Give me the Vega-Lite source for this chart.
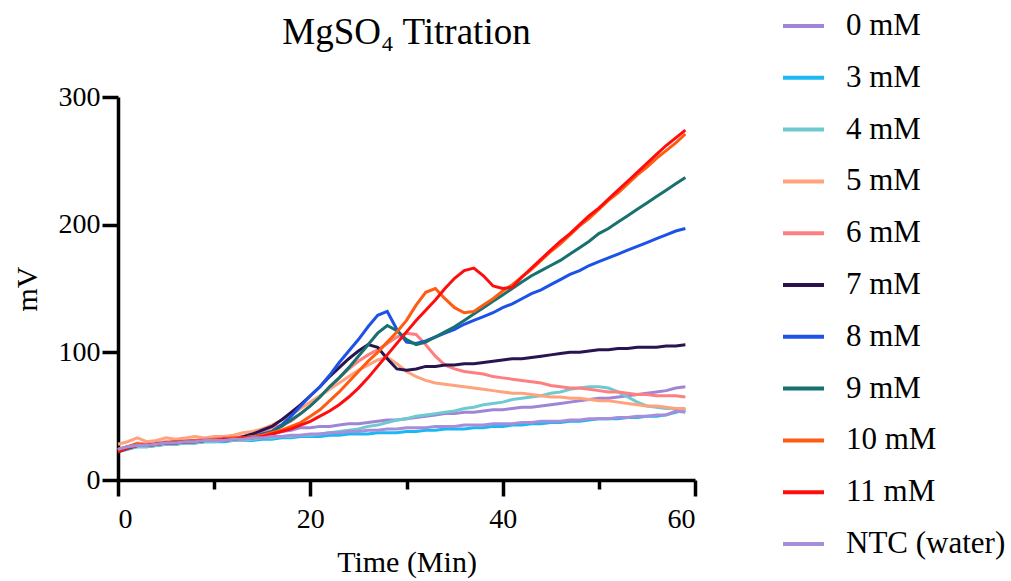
{
"$schema":"https://vega.github.io/schema/vega-lite/v6.json",
"autosize":{"type":"none"},
"padding":{"left":118,"top":97,"right":316,"bottom":101},
"width":577,"height":383,
"background":"white",
"config":{"view":{"stroke":null}},
"title":{"text":"MgSO₄ Titration","font":"Liberation Serif","fontSize":37,"fontWeight":"normal","color":"black","anchor":"middle","offset":-48},
"data":{"values":[
{"s":"0 mM","t":0,"v":24},{"s":"0 mM","t":1,"v":26},{"s":"0 mM","t":2,"v":28},{"s":"0 mM","t":3,"v":27},{"s":"0 mM","t":4,"v":28},{"s":"0 mM","t":5,"v":29},{"s":"0 mM","t":6,"v":30},{"s":"0 mM","t":7,"v":30},{"s":"0 mM","t":8,"v":31},{"s":"0 mM","t":9,"v":31},{"s":"0 mM","t":10,"v":31},{"s":"0 mM","t":11,"v":32},{"s":"0 mM","t":12,"v":32},{"s":"0 mM","t":13,"v":33},{"s":"0 mM","t":14,"v":33},
{"s":"0 mM","t":15,"v":34},{"s":"0 mM","t":16,"v":36},{"s":"0 mM","t":17,"v":38},{"s":"0 mM","t":18,"v":39},{"s":"0 mM","t":19,"v":41},{"s":"0 mM","t":20,"v":41},{"s":"0 mM","t":21,"v":42},{"s":"0 mM","t":22,"v":42},{"s":"0 mM","t":23,"v":43},{"s":"0 mM","t":24,"v":44},{"s":"0 mM","t":25,"v":44},{"s":"0 mM","t":26,"v":45},{"s":"0 mM","t":27,"v":46},{"s":"0 mM","t":28,"v":47},{"s":"0 mM","t":29,"v":47},
{"s":"0 mM","t":30,"v":48},{"s":"0 mM","t":31,"v":49},{"s":"0 mM","t":32,"v":50},{"s":"0 mM","t":33,"v":51},{"s":"0 mM","t":34,"v":52},{"s":"0 mM","t":35,"v":52},{"s":"0 mM","t":36,"v":53},{"s":"0 mM","t":37,"v":53},{"s":"0 mM","t":38,"v":54},{"s":"0 mM","t":39,"v":55},{"s":"0 mM","t":40,"v":55},{"s":"0 mM","t":41,"v":56},{"s":"0 mM","t":42,"v":57},{"s":"0 mM","t":43,"v":57},{"s":"0 mM","t":44,"v":58},
{"s":"0 mM","t":45,"v":59},{"s":"0 mM","t":46,"v":60},{"s":"0 mM","t":47,"v":61},{"s":"0 mM","t":48,"v":62},{"s":"0 mM","t":49,"v":63},{"s":"0 mM","t":50,"v":64},{"s":"0 mM","t":51,"v":64},{"s":"0 mM","t":52,"v":65},{"s":"0 mM","t":53,"v":66},{"s":"0 mM","t":54,"v":67},{"s":"0 mM","t":55,"v":68},{"s":"0 mM","t":56,"v":69},{"s":"0 mM","t":57,"v":70},{"s":"0 mM","t":58,"v":72},{"s":"0 mM","t":59,"v":73},
{"s":"3 mM","t":0,"v":22},{"s":"3 mM","t":1,"v":24},{"s":"3 mM","t":2,"v":26},{"s":"3 mM","t":3,"v":26},{"s":"3 mM","t":4,"v":27},{"s":"3 mM","t":5,"v":28},{"s":"3 mM","t":6,"v":28},{"s":"3 mM","t":7,"v":29},{"s":"3 mM","t":8,"v":29},{"s":"3 mM","t":9,"v":30},{"s":"3 mM","t":10,"v":30},{"s":"3 mM","t":11,"v":30},{"s":"3 mM","t":12,"v":31},{"s":"3 mM","t":13,"v":31},{"s":"3 mM","t":14,"v":31},
{"s":"3 mM","t":15,"v":32},{"s":"3 mM","t":16,"v":32},{"s":"3 mM","t":17,"v":33},{"s":"3 mM","t":18,"v":33},{"s":"3 mM","t":19,"v":34},{"s":"3 mM","t":20,"v":34},{"s":"3 mM","t":21,"v":34},{"s":"3 mM","t":22,"v":35},{"s":"3 mM","t":23,"v":35},{"s":"3 mM","t":24,"v":36},{"s":"3 mM","t":25,"v":36},{"s":"3 mM","t":26,"v":36},{"s":"3 mM","t":27,"v":37},{"s":"3 mM","t":28,"v":37},{"s":"3 mM","t":29,"v":37},
{"s":"3 mM","t":30,"v":38},{"s":"3 mM","t":31,"v":38},{"s":"3 mM","t":32,"v":39},{"s":"3 mM","t":33,"v":39},{"s":"3 mM","t":34,"v":40},{"s":"3 mM","t":35,"v":40},{"s":"3 mM","t":36,"v":40},{"s":"3 mM","t":37,"v":41},{"s":"3 mM","t":38,"v":41},{"s":"3 mM","t":39,"v":42},{"s":"3 mM","t":40,"v":42},{"s":"3 mM","t":41,"v":43},{"s":"3 mM","t":42,"v":43},{"s":"3 mM","t":43,"v":44},{"s":"3 mM","t":44,"v":44},
{"s":"3 mM","t":45,"v":45},{"s":"3 mM","t":46,"v":45},{"s":"3 mM","t":47,"v":46},{"s":"3 mM","t":48,"v":46},{"s":"3 mM","t":49,"v":47},{"s":"3 mM","t":50,"v":48},{"s":"3 mM","t":51,"v":48},{"s":"3 mM","t":52,"v":48},{"s":"3 mM","t":53,"v":49},{"s":"3 mM","t":54,"v":49},{"s":"3 mM","t":55,"v":50},{"s":"3 mM","t":56,"v":50},{"s":"3 mM","t":57,"v":51},{"s":"3 mM","t":58,"v":53},{"s":"3 mM","t":59,"v":55},
{"s":"4 mM","t":0,"v":23},{"s":"4 mM","t":1,"v":25},{"s":"4 mM","t":2,"v":26},{"s":"4 mM","t":3,"v":26},{"s":"4 mM","t":4,"v":27},{"s":"4 mM","t":5,"v":28},{"s":"4 mM","t":6,"v":28},{"s":"4 mM","t":7,"v":29},{"s":"4 mM","t":8,"v":29},{"s":"4 mM","t":9,"v":30},{"s":"4 mM","t":10,"v":30},{"s":"4 mM","t":11,"v":31},{"s":"4 mM","t":12,"v":31},{"s":"4 mM","t":13,"v":31},{"s":"4 mM","t":14,"v":32},
{"s":"4 mM","t":15,"v":33},{"s":"4 mM","t":16,"v":33},{"s":"4 mM","t":17,"v":34},{"s":"4 mM","t":18,"v":34},{"s":"4 mM","t":19,"v":35},{"s":"4 mM","t":20,"v":35},{"s":"4 mM","t":21,"v":36},{"s":"4 mM","t":22,"v":37},{"s":"4 mM","t":23,"v":38},{"s":"4 mM","t":24,"v":39},{"s":"4 mM","t":25,"v":40},{"s":"4 mM","t":26,"v":42},{"s":"4 mM","t":27,"v":43},{"s":"4 mM","t":28,"v":45},{"s":"4 mM","t":29,"v":47},
{"s":"4 mM","t":30,"v":48},{"s":"4 mM","t":31,"v":50},{"s":"4 mM","t":32,"v":51},{"s":"4 mM","t":33,"v":52},{"s":"4 mM","t":34,"v":53},{"s":"4 mM","t":35,"v":54},{"s":"4 mM","t":36,"v":56},{"s":"4 mM","t":37,"v":57},{"s":"4 mM","t":38,"v":59},{"s":"4 mM","t":39,"v":60},{"s":"4 mM","t":40,"v":61},{"s":"4 mM","t":41,"v":63},{"s":"4 mM","t":42,"v":64},{"s":"4 mM","t":43,"v":65},{"s":"4 mM","t":44,"v":66},
{"s":"4 mM","t":45,"v":68},{"s":"4 mM","t":46,"v":69},{"s":"4 mM","t":47,"v":71},{"s":"4 mM","t":48,"v":72},{"s":"4 mM","t":49,"v":73},{"s":"4 mM","t":50,"v":73},{"s":"4 mM","t":51,"v":72},{"s":"4 mM","t":52,"v":69},{"s":"4 mM","t":53,"v":65},{"s":"4 mM","t":54,"v":61},{"s":"4 mM","t":55,"v":58},{"s":"4 mM","t":56,"v":57},{"s":"4 mM","t":57,"v":56},{"s":"4 mM","t":58,"v":56},{"s":"4 mM","t":59,"v":55},
{"s":"5 mM","t":0,"v":28},{"s":"5 mM","t":1,"v":30},{"s":"5 mM","t":2,"v":33},{"s":"5 mM","t":3,"v":30},{"s":"5 mM","t":4,"v":31},{"s":"5 mM","t":5,"v":33},{"s":"5 mM","t":6,"v":32},{"s":"5 mM","t":7,"v":33},{"s":"5 mM","t":8,"v":34},{"s":"5 mM","t":9,"v":33},{"s":"5 mM","t":10,"v":34},{"s":"5 mM","t":11,"v":34},{"s":"5 mM","t":12,"v":35},{"s":"5 mM","t":13,"v":37},{"s":"5 mM","t":14,"v":38},
{"s":"5 mM","t":15,"v":40},{"s":"5 mM","t":16,"v":43},{"s":"5 mM","t":17,"v":47},{"s":"5 mM","t":18,"v":51},{"s":"5 mM","t":19,"v":56},{"s":"5 mM","t":20,"v":61},{"s":"5 mM","t":21,"v":66},{"s":"5 mM","t":22,"v":71},{"s":"5 mM","t":23,"v":76},{"s":"5 mM","t":24,"v":81},{"s":"5 mM","t":25,"v":86},{"s":"5 mM","t":26,"v":90},{"s":"5 mM","t":27,"v":94},{"s":"5 mM","t":28,"v":96},{"s":"5 mM","t":29,"v":91},
{"s":"5 mM","t":30,"v":85},{"s":"5 mM","t":31,"v":81},{"s":"5 mM","t":32,"v":78},{"s":"5 mM","t":33,"v":76},{"s":"5 mM","t":34,"v":75},{"s":"5 mM","t":35,"v":74},{"s":"5 mM","t":36,"v":73},{"s":"5 mM","t":37,"v":72},{"s":"5 mM","t":38,"v":71},{"s":"5 mM","t":39,"v":70},{"s":"5 mM","t":40,"v":69},{"s":"5 mM","t":41,"v":68},{"s":"5 mM","t":42,"v":68},{"s":"5 mM","t":43,"v":67},{"s":"5 mM","t":44,"v":66},
{"s":"5 mM","t":45,"v":65},{"s":"5 mM","t":46,"v":65},{"s":"5 mM","t":47,"v":64},{"s":"5 mM","t":48,"v":64},{"s":"5 mM","t":49,"v":63},{"s":"5 mM","t":50,"v":62},{"s":"5 mM","t":51,"v":62},{"s":"5 mM","t":52,"v":61},{"s":"5 mM","t":53,"v":60},{"s":"5 mM","t":54,"v":59},{"s":"5 mM","t":55,"v":58},{"s":"5 mM","t":56,"v":58},{"s":"5 mM","t":57,"v":57},{"s":"5 mM","t":58,"v":56},{"s":"5 mM","t":59,"v":56},
{"s":"6 mM","t":0,"v":24},{"s":"6 mM","t":1,"v":26},{"s":"6 mM","t":2,"v":29},{"s":"6 mM","t":3,"v":28},{"s":"6 mM","t":4,"v":29},{"s":"6 mM","t":5,"v":30},{"s":"6 mM","t":6,"v":30},{"s":"6 mM","t":7,"v":31},{"s":"6 mM","t":8,"v":31},{"s":"6 mM","t":9,"v":32},{"s":"6 mM","t":10,"v":32},{"s":"6 mM","t":11,"v":33},{"s":"6 mM","t":12,"v":33},{"s":"6 mM","t":13,"v":34},{"s":"6 mM","t":14,"v":36},
{"s":"6 mM","t":15,"v":38},{"s":"6 mM","t":16,"v":41},{"s":"6 mM","t":17,"v":43},{"s":"6 mM","t":18,"v":46},{"s":"6 mM","t":19,"v":52},{"s":"6 mM","t":20,"v":58},{"s":"6 mM","t":21,"v":65},{"s":"6 mM","t":22,"v":73},{"s":"6 mM","t":23,"v":80},{"s":"6 mM","t":24,"v":87},{"s":"6 mM","t":25,"v":93},{"s":"6 mM","t":26,"v":98},{"s":"6 mM","t":27,"v":102},{"s":"6 mM","t":28,"v":107},{"s":"6 mM","t":29,"v":112},
{"s":"6 mM","t":30,"v":115},{"s":"6 mM","t":31,"v":114},{"s":"6 mM","t":32,"v":106},{"s":"6 mM","t":33,"v":97},{"s":"6 mM","t":34,"v":90},{"s":"6 mM","t":35,"v":87},{"s":"6 mM","t":36,"v":85},{"s":"6 mM","t":37,"v":84},{"s":"6 mM","t":38,"v":83},{"s":"6 mM","t":39,"v":81},{"s":"6 mM","t":40,"v":80},{"s":"6 mM","t":41,"v":79},{"s":"6 mM","t":42,"v":78},{"s":"6 mM","t":43,"v":77},{"s":"6 mM","t":44,"v":76},
{"s":"6 mM","t":45,"v":74},{"s":"6 mM","t":46,"v":73},{"s":"6 mM","t":47,"v":72},{"s":"6 mM","t":48,"v":72},{"s":"6 mM","t":49,"v":71},{"s":"6 mM","t":50,"v":70},{"s":"6 mM","t":51,"v":69},{"s":"6 mM","t":52,"v":69},{"s":"6 mM","t":53,"v":68},{"s":"6 mM","t":54,"v":67},{"s":"6 mM","t":55,"v":67},{"s":"6 mM","t":56,"v":66},{"s":"6 mM","t":57,"v":66},{"s":"6 mM","t":58,"v":66},{"s":"6 mM","t":59,"v":65},
{"s":"7 mM","t":0,"v":22},{"s":"7 mM","t":1,"v":25},{"s":"7 mM","t":2,"v":27},{"s":"7 mM","t":3,"v":27},{"s":"7 mM","t":4,"v":28},{"s":"7 mM","t":5,"v":29},{"s":"7 mM","t":6,"v":29},{"s":"7 mM","t":7,"v":30},{"s":"7 mM","t":8,"v":30},{"s":"7 mM","t":9,"v":31},{"s":"7 mM","t":10,"v":31},{"s":"7 mM","t":11,"v":32},{"s":"7 mM","t":12,"v":32},{"s":"7 mM","t":13,"v":34},{"s":"7 mM","t":14,"v":36},
{"s":"7 mM","t":15,"v":39},{"s":"7 mM","t":16,"v":42},{"s":"7 mM","t":17,"v":47},{"s":"7 mM","t":18,"v":53},{"s":"7 mM","t":19,"v":59},{"s":"7 mM","t":20,"v":66},{"s":"7 mM","t":21,"v":73},{"s":"7 mM","t":22,"v":81},{"s":"7 mM","t":23,"v":88},{"s":"7 mM","t":24,"v":95},{"s":"7 mM","t":25,"v":101},{"s":"7 mM","t":26,"v":106},{"s":"7 mM","t":27,"v":104},{"s":"7 mM","t":28,"v":95},{"s":"7 mM","t":29,"v":87},
{"s":"7 mM","t":30,"v":86},{"s":"7 mM","t":31,"v":87},{"s":"7 mM","t":32,"v":89},{"s":"7 mM","t":33,"v":89},{"s":"7 mM","t":34,"v":90},{"s":"7 mM","t":35,"v":90},{"s":"7 mM","t":36,"v":91},{"s":"7 mM","t":37,"v":91},{"s":"7 mM","t":38,"v":92},{"s":"7 mM","t":39,"v":93},{"s":"7 mM","t":40,"v":94},{"s":"7 mM","t":41,"v":95},{"s":"7 mM","t":42,"v":95},{"s":"7 mM","t":43,"v":96},{"s":"7 mM","t":44,"v":97},
{"s":"7 mM","t":45,"v":98},{"s":"7 mM","t":46,"v":99},{"s":"7 mM","t":47,"v":100},{"s":"7 mM","t":48,"v":100},{"s":"7 mM","t":49,"v":101},{"s":"7 mM","t":50,"v":102},{"s":"7 mM","t":51,"v":102},{"s":"7 mM","t":52,"v":103},{"s":"7 mM","t":53,"v":103},{"s":"7 mM","t":54,"v":104},{"s":"7 mM","t":55,"v":104},{"s":"7 mM","t":56,"v":104},{"s":"7 mM","t":57,"v":105},{"s":"7 mM","t":58,"v":105},{"s":"7 mM","t":59,"v":106},
{"s":"8 mM","t":0,"v":23},{"s":"8 mM","t":1,"v":26},{"s":"8 mM","t":2,"v":28},{"s":"8 mM","t":3,"v":27},{"s":"8 mM","t":4,"v":28},{"s":"8 mM","t":5,"v":29},{"s":"8 mM","t":6,"v":30},{"s":"8 mM","t":7,"v":30},{"s":"8 mM","t":8,"v":31},{"s":"8 mM","t":9,"v":31},{"s":"8 mM","t":10,"v":31},{"s":"8 mM","t":11,"v":32},{"s":"8 mM","t":12,"v":32},{"s":"8 mM","t":13,"v":33},{"s":"8 mM","t":14,"v":34},
{"s":"8 mM","t":15,"v":36},{"s":"8 mM","t":16,"v":38},{"s":"8 mM","t":17,"v":43},{"s":"8 mM","t":18,"v":50},{"s":"8 mM","t":19,"v":58},{"s":"8 mM","t":20,"v":66},{"s":"8 mM","t":21,"v":73},{"s":"8 mM","t":22,"v":82},{"s":"8 mM","t":23,"v":92},{"s":"8 mM","t":24,"v":101},{"s":"8 mM","t":25,"v":110},{"s":"8 mM","t":26,"v":120},{"s":"8 mM","t":27,"v":129},{"s":"8 mM","t":28,"v":132},{"s":"8 mM","t":29,"v":118},
{"s":"8 mM","t":30,"v":108},{"s":"8 mM","t":31,"v":107},{"s":"8 mM","t":32,"v":109},{"s":"8 mM","t":33,"v":112},{"s":"8 mM","t":34,"v":115},{"s":"8 mM","t":35,"v":118},{"s":"8 mM","t":36,"v":122},{"s":"8 mM","t":37,"v":125},{"s":"8 mM","t":38,"v":128},{"s":"8 mM","t":39,"v":131},{"s":"8 mM","t":40,"v":135},{"s":"8 mM","t":41,"v":138},{"s":"8 mM","t":42,"v":142},{"s":"8 mM","t":43,"v":146},{"s":"8 mM","t":44,"v":149},
{"s":"8 mM","t":45,"v":153},{"s":"8 mM","t":46,"v":157},{"s":"8 mM","t":47,"v":161},{"s":"8 mM","t":48,"v":164},{"s":"8 mM","t":49,"v":168},{"s":"8 mM","t":50,"v":171},{"s":"8 mM","t":51,"v":174},{"s":"8 mM","t":52,"v":177},{"s":"8 mM","t":53,"v":180},{"s":"8 mM","t":54,"v":183},{"s":"8 mM","t":55,"v":186},{"s":"8 mM","t":56,"v":189},{"s":"8 mM","t":57,"v":192},{"s":"8 mM","t":58,"v":195},{"s":"8 mM","t":59,"v":197},
{"s":"9 mM","t":0,"v":23},{"s":"9 mM","t":1,"v":25},{"s":"9 mM","t":2,"v":27},{"s":"9 mM","t":3,"v":27},{"s":"9 mM","t":4,"v":28},{"s":"9 mM","t":5,"v":29},{"s":"9 mM","t":6,"v":29},{"s":"9 mM","t":7,"v":30},{"s":"9 mM","t":8,"v":30},{"s":"9 mM","t":9,"v":31},{"s":"9 mM","t":10,"v":31},{"s":"9 mM","t":11,"v":31},{"s":"9 mM","t":12,"v":32},{"s":"9 mM","t":13,"v":33},{"s":"9 mM","t":14,"v":34},
{"s":"9 mM","t":15,"v":35},{"s":"9 mM","t":16,"v":38},{"s":"9 mM","t":17,"v":42},{"s":"9 mM","t":18,"v":47},{"s":"9 mM","t":19,"v":52},{"s":"9 mM","t":20,"v":58},{"s":"9 mM","t":21,"v":65},{"s":"9 mM","t":22,"v":73},{"s":"9 mM","t":23,"v":80},{"s":"9 mM","t":24,"v":88},{"s":"9 mM","t":25,"v":97},{"s":"9 mM","t":26,"v":106},{"s":"9 mM","t":27,"v":115},{"s":"9 mM","t":28,"v":121},{"s":"9 mM","t":29,"v":117},
{"s":"9 mM","t":30,"v":110},{"s":"9 mM","t":31,"v":106},{"s":"9 mM","t":32,"v":108},{"s":"9 mM","t":33,"v":112},{"s":"9 mM","t":34,"v":116},{"s":"9 mM","t":35,"v":120},{"s":"9 mM","t":36,"v":125},{"s":"9 mM","t":37,"v":130},{"s":"9 mM","t":38,"v":135},{"s":"9 mM","t":39,"v":140},{"s":"9 mM","t":40,"v":145},{"s":"9 mM","t":41,"v":150},{"s":"9 mM","t":42,"v":155},{"s":"9 mM","t":43,"v":160},{"s":"9 mM","t":44,"v":164},
{"s":"9 mM","t":45,"v":168},{"s":"9 mM","t":46,"v":172},{"s":"9 mM","t":47,"v":177},{"s":"9 mM","t":48,"v":182},{"s":"9 mM","t":49,"v":187},{"s":"9 mM","t":50,"v":193},{"s":"9 mM","t":51,"v":197},{"s":"9 mM","t":52,"v":202},{"s":"9 mM","t":53,"v":207},{"s":"9 mM","t":54,"v":212},{"s":"9 mM","t":55,"v":217},{"s":"9 mM","t":56,"v":222},{"s":"9 mM","t":57,"v":227},{"s":"9 mM","t":58,"v":232},{"s":"9 mM","t":59,"v":237},
{"s":"10 mM","t":0,"v":24},{"s":"10 mM","t":1,"v":26},{"s":"10 mM","t":2,"v":28},{"s":"10 mM","t":3,"v":27},{"s":"10 mM","t":4,"v":28},{"s":"10 mM","t":5,"v":29},{"s":"10 mM","t":6,"v":30},{"s":"10 mM","t":7,"v":30},{"s":"10 mM","t":8,"v":31},{"s":"10 mM","t":9,"v":31},{"s":"10 mM","t":10,"v":32},{"s":"10 mM","t":11,"v":32},{"s":"10 mM","t":12,"v":33},{"s":"10 mM","t":13,"v":33},{"s":"10 mM","t":14,"v":34},
{"s":"10 mM","t":15,"v":35},{"s":"10 mM","t":16,"v":37},{"s":"10 mM","t":17,"v":39},{"s":"10 mM","t":18,"v":42},{"s":"10 mM","t":19,"v":45},{"s":"10 mM","t":20,"v":50},{"s":"10 mM","t":21,"v":55},{"s":"10 mM","t":22,"v":62},{"s":"10 mM","t":23,"v":69},{"s":"10 mM","t":24,"v":77},{"s":"10 mM","t":25,"v":85},{"s":"10 mM","t":26,"v":93},{"s":"10 mM","t":27,"v":100},{"s":"10 mM","t":28,"v":108},{"s":"10 mM","t":29,"v":116},
{"s":"10 mM","t":30,"v":125},{"s":"10 mM","t":31,"v":137},{"s":"10 mM","t":32,"v":147},{"s":"10 mM","t":33,"v":150},{"s":"10 mM","t":34,"v":142},{"s":"10 mM","t":35,"v":135},{"s":"10 mM","t":36,"v":131},{"s":"10 mM","t":37,"v":132},{"s":"10 mM","t":38,"v":137},{"s":"10 mM","t":39,"v":142},{"s":"10 mM","t":40,"v":148},{"s":"10 mM","t":41,"v":153},{"s":"10 mM","t":42,"v":159},{"s":"10 mM","t":43,"v":165},{"s":"10 mM","t":44,"v":172},
{"s":"10 mM","t":45,"v":179},{"s":"10 mM","t":46,"v":185},{"s":"10 mM","t":47,"v":192},{"s":"10 mM","t":48,"v":199},{"s":"10 mM","t":49,"v":205},{"s":"10 mM","t":50,"v":212},{"s":"10 mM","t":51,"v":219},{"s":"10 mM","t":52,"v":225},{"s":"10 mM","t":53,"v":232},{"s":"10 mM","t":54,"v":239},{"s":"10 mM","t":55,"v":245},{"s":"10 mM","t":56,"v":252},{"s":"10 mM","t":57,"v":258},{"s":"10 mM","t":58,"v":264},{"s":"10 mM","t":59,"v":271},
{"s":"11 mM","t":0,"v":22},{"s":"11 mM","t":1,"v":25},{"s":"11 mM","t":2,"v":27},{"s":"11 mM","t":3,"v":27},{"s":"11 mM","t":4,"v":28},{"s":"11 mM","t":5,"v":29},{"s":"11 mM","t":6,"v":29},{"s":"11 mM","t":7,"v":30},{"s":"11 mM","t":8,"v":30},{"s":"11 mM","t":9,"v":31},{"s":"11 mM","t":10,"v":31},{"s":"11 mM","t":11,"v":32},{"s":"11 mM","t":12,"v":32},{"s":"11 mM","t":13,"v":33},{"s":"11 mM","t":14,"v":33},
{"s":"11 mM","t":15,"v":34},{"s":"11 mM","t":16,"v":36},{"s":"11 mM","t":17,"v":38},{"s":"11 mM","t":18,"v":40},{"s":"11 mM","t":19,"v":43},{"s":"11 mM","t":20,"v":46},{"s":"11 mM","t":21,"v":50},{"s":"11 mM","t":22,"v":54},{"s":"11 mM","t":23,"v":59},{"s":"11 mM","t":24,"v":65},{"s":"11 mM","t":25,"v":72},{"s":"11 mM","t":26,"v":80},{"s":"11 mM","t":27,"v":89},{"s":"11 mM","t":28,"v":98},{"s":"11 mM","t":29,"v":107},
{"s":"11 mM","t":30,"v":116},{"s":"11 mM","t":31,"v":125},{"s":"11 mM","t":32,"v":133},{"s":"11 mM","t":33,"v":141},{"s":"11 mM","t":34,"v":150},{"s":"11 mM","t":35,"v":158},{"s":"11 mM","t":36,"v":164},{"s":"11 mM","t":37,"v":166},{"s":"11 mM","t":38,"v":160},{"s":"11 mM","t":39,"v":152},{"s":"11 mM","t":40,"v":150},{"s":"11 mM","t":41,"v":151},{"s":"11 mM","t":42,"v":159},{"s":"11 mM","t":43,"v":166},{"s":"11 mM","t":44,"v":173},
{"s":"11 mM","t":45,"v":180},{"s":"11 mM","t":46,"v":187},{"s":"11 mM","t":47,"v":193},{"s":"11 mM","t":48,"v":200},{"s":"11 mM","t":49,"v":207},{"s":"11 mM","t":50,"v":213},{"s":"11 mM","t":51,"v":220},{"s":"11 mM","t":52,"v":227},{"s":"11 mM","t":53,"v":234},{"s":"11 mM","t":54,"v":241},{"s":"11 mM","t":55,"v":248},{"s":"11 mM","t":56,"v":255},{"s":"11 mM","t":57,"v":262},{"s":"11 mM","t":58,"v":268},{"s":"11 mM","t":59,"v":274},
{"s":"NTC (water)","t":0,"v":24},{"s":"NTC (water)","t":1,"v":26},{"s":"NTC (water)","t":2,"v":27},{"s":"NTC (water)","t":3,"v":27},{"s":"NTC (water)","t":4,"v":28},{"s":"NTC (water)","t":5,"v":29},{"s":"NTC (water)","t":6,"v":29},{"s":"NTC (water)","t":7,"v":30},{"s":"NTC (water)","t":8,"v":30},{"s":"NTC (water)","t":9,"v":31},{"s":"NTC (water)","t":10,"v":31},{"s":"NTC (water)","t":11,"v":31},{"s":"NTC (water)","t":12,"v":32},{"s":"NTC (water)","t":13,"v":32},{"s":"NTC (water)","t":14,"v":33},
{"s":"NTC (water)","t":15,"v":33},{"s":"NTC (water)","t":16,"v":34},{"s":"NTC (water)","t":17,"v":34},{"s":"NTC (water)","t":18,"v":35},{"s":"NTC (water)","t":19,"v":35},{"s":"NTC (water)","t":20,"v":36},{"s":"NTC (water)","t":21,"v":36},{"s":"NTC (water)","t":22,"v":37},{"s":"NTC (water)","t":23,"v":37},{"s":"NTC (water)","t":24,"v":38},{"s":"NTC (water)","t":25,"v":38},{"s":"NTC (water)","t":26,"v":39},{"s":"NTC (water)","t":27,"v":39},{"s":"NTC (water)","t":28,"v":40},{"s":"NTC (water)","t":29,"v":40},
{"s":"NTC (water)","t":30,"v":41},{"s":"NTC (water)","t":31,"v":41},{"s":"NTC (water)","t":32,"v":41},{"s":"NTC (water)","t":33,"v":42},{"s":"NTC (water)","t":34,"v":42},{"s":"NTC (water)","t":35,"v":42},{"s":"NTC (water)","t":36,"v":43},{"s":"NTC (water)","t":37,"v":43},{"s":"NTC (water)","t":38,"v":43},{"s":"NTC (water)","t":39,"v":44},{"s":"NTC (water)","t":40,"v":44},{"s":"NTC (water)","t":41,"v":44},{"s":"NTC (water)","t":42,"v":45},{"s":"NTC (water)","t":43,"v":45},{"s":"NTC (water)","t":44,"v":46},
{"s":"NTC (water)","t":45,"v":46},{"s":"NTC (water)","t":46,"v":46},{"s":"NTC (water)","t":47,"v":47},{"s":"NTC (water)","t":48,"v":47},{"s":"NTC (water)","t":49,"v":48},{"s":"NTC (water)","t":50,"v":48},{"s":"NTC (water)","t":51,"v":48},{"s":"NTC (water)","t":52,"v":49},{"s":"NTC (water)","t":53,"v":49},{"s":"NTC (water)","t":54,"v":50},{"s":"NTC (water)","t":55,"v":50},{"s":"NTC (water)","t":56,"v":51},{"s":"NTC (water)","t":57,"v":51},{"s":"NTC (water)","t":58,"v":54},{"s":"NTC (water)","t":59,"v":53}
]},
"mark":{"type":"line","strokeWidth":3,"interpolate":"linear"},
"encoding":{
  "x":{"field":"t","type":"quantitative","scale":{"domain":[0,60],"nice":false},
       "axis":{"values":[0,10,20,30,40,50,60],"grid":false,
               "tickSize":{"condition":{"test":"datum.value % 20 === 0","value":16},"value":9},
               "labelExpr":"datum.value % 20 === 0 ? datum.label : ''",
               "tickWidth":3.5,"domainWidth":3.5,"domainColor":"black","tickColor":"black","labelColor":"black","labelFont":"Liberation Serif","labelFontSize":28,"labelPadding":9,"title":"Time (Min)","titleFont":"Liberation Serif","titleFontSize":30,"titleFontWeight":"normal","titleColor":"black","titlePadding":14}},
  "y":{"field":"v","type":"quantitative","scale":{"domain":[0,300],"nice":false},
       "axis":{"values":[0,100,200,300],"grid":false,"tickSize":16,"tickWidth":3.5,"domainWidth":3.5,"domainColor":"black","tickColor":"black","labelColor":"black","labelFont":"Liberation Serif","labelFontSize":28,"labelPadding":2,"title":"mV","titleFont":"Liberation Serif","titleFontSize":30,"titleFontWeight":"normal","titleColor":"black","titlePadding":16}},
  "color":{"field":"s","type":"nominal",
    "scale":{"domain":["0 mM","3 mM","4 mM","5 mM","6 mM","7 mM","8 mM","9 mM","10 mM","11 mM","NTC (water)"],
             "range":["#a085d6","#1bb8f5","#6ecad0","#ffa37c","#ff7f80","#2a1450","#1c52e8","#17716f","#ff5c12","#ff0d0d","#a68ed8"]},
    "legend":{"orient":"none","legendX":663,"legendY":-93.5,"title":null,"symbolType":"stroke","symbolSize":1681,"symbolStrokeWidth":4,"labelFont":"Liberation Serif","labelFontSize":31,"labelColor":"black","labelOffset":20,"rowPadding":13.8,"padding":0}}
}
}
